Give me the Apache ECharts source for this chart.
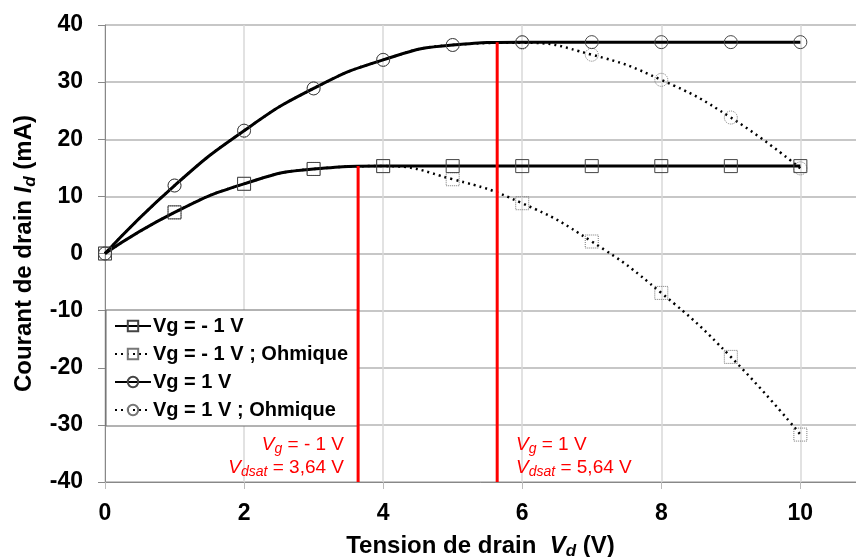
<!DOCTYPE html>
<html>
<head>
<meta charset="utf-8">
<script src="https://cdn.jsdelivr.net/npm/echarts@6/dist/echarts.min.js"></script>
<style>
html, body { margin: 0; padding: 0; background: #fff; }
#main { width: 856px; height: 557px; }
</style>
</head>
<body>
<div id="main"></div>
<script>
// valeurs
var vd = [0, 1, 2, 3, 4, 5, 6, 7, 8, 9, 10];
var idVgMoins1 = [0, 7.2, 12.2, 14.8, 15.3, 15.3, 15.3, 15.3, 15.3, 15.3, 15.3];
var idVgMoins1Ohm = [0, 7.2, 12.2, 14.8, 15.3, 13.0, 8.8, 2.1, -6.9, -18.1, -31.7];
var idVg1 = [0, 11.9, 21.5, 28.9, 33.9, 36.5, 37.0, 37.0, 37.0, 37.0, 37.0];
var idVg1Ohm = [0, 11.9, 21.5, 28.9, 33.9, 36.5, 36.9, 34.8, 30.4, 23.8, 14.9];
var vdsat = [3.64, 5.64];
var idsat = [15.3, 37.0];
var xTicks = [0, 2, 4, 6, 8, 10];
var noms = ['Vg = - 1 V', 'Vg = - 1 V ; Ohmique', 'Vg = 1 V', 'Vg = 1 V ; Ohmique'];

var FONT = '"Liberation Sans", Arial, sans-serif';

function paires(xs, ys) {
    var out = [];
    for (var i = 0; i < xs.length; i++) out.push([xs[i], ys[i]]);
    return out;
}

function courbe(nom, ys, symbole, pointille) {
    return {
        name: nom,
        type: 'line',
        data: paires(vd, ys),
        smooth: 0.5,
        symbol: symbole,
        symbolSize: 13,
        showAllSymbol: true,
        z: pointille ? 2 : 3,
        itemStyle: {
            color: 'rgba(0,0,0,0)',
            borderColor: pointille ? '#777' : '#444',
            borderWidth: 1,
            borderType: pointille ? 'dotted' : 'solid'
        },
        lineStyle: {
            color: '#000',
            width: pointille ? 2.5 : 3,
            type: pointille ? [2, 4] : 'solid'
        },
        emphasis: { disabled: true }
    };
}

function traitRouge(i) {
    return {
        type: 'line',
        data: [[vdsat[i], -40], [vdsat[i], idsat[i]]],
        symbol: 'none',
        z: 4,
        lineStyle: { color: '#ff0000', width: 3 },
        emphasis: { disabled: true }
    };
}

var myChart = echarts.init(document.getElementById('main'));

// texte rouge (graphic => fill et non color)
var sub = { fontFamily: FONT, fontSize: 14, fontStyle: 'italic', fill: '#ff0000', verticalAlign: 'bottom', padding: [9, 0, 0, 0] };
var ita = { fontFamily: FONT, fontSize: 19, fontStyle: 'italic', fill: '#ff0000' };
var nor = { fontFamily: FONT, fontSize: 19, fill: '#ff0000' };

var options = {
    animation: false,
    grid: { left: 105, top: 25, right: 0, bottom: 75, outerBoundsMode: 'none' },
    legend: {
        data: noms,
        orient: 'vertical',
        left: 106,
        top: 310,
        width: 250,
        backgroundColor: '#fff',
        borderColor: '#666',
        borderWidth: 1,
        borderRadius: 0,
        padding: [6, 10, 6, 8],
        itemGap: 8,
        itemWidth: 36,
        itemHeight: 13,
        textStyle: { fontFamily: FONT, fontSize: 20, fontWeight: 'bold', color: '#000', padding: [0, 50, 0, -3] }
    },
    xAxis: {
        type: 'value',
        min: 0,
        max: 10.8,
        interval: 0.4,
        name: '{b|Tension de drain  }{i|V}{s|d}{b| (V)}',
        nameLocation: 'middle',
        nameGap: 50,
        nameTextStyle: {
            rich: {
                b: { fontFamily: FONT, fontSize: 24, fontWeight: 'bold', color: '#000' },
                i: { fontFamily: FONT, fontSize: 24, fontWeight: 'bold', fontStyle: 'italic', color: '#000' },
                s: { fontFamily: FONT, fontSize: 17, fontWeight: 'bold', fontStyle: 'italic', color: '#000', verticalAlign: 'bottom', padding: [11, 0, 0, 0] }
            }
        },
        axisLine: { onZero: false, lineStyle: { color: '#888', width: 1 } },
        axisTick: { show: true, customValues: xTicks, length: 7, lineStyle: { color: '#bbb' } },
        axisLabel: {
            customValues: xTicks,
            margin: 20,
            fontFamily: FONT, fontSize: 23, fontWeight: 'bold', color: '#000'
        },
        splitLine: { show: true, lineStyle: { color: '#d9d9d9', width: 1.5 } }
    },
    yAxis: {
        type: 'value',
        min: -40,
        max: 40,
        interval: 10,
        name: '{b|Courant de drain }{i|I}{s|d}{b| (mA)}',
        nameLocation: 'middle',
        nameGap: 66,
        nameRotate: 90,
        nameTextStyle: {
            rich: {
                b: { fontFamily: FONT, fontSize: 24, fontWeight: 'bold', color: '#000' },
                i: { fontFamily: FONT, fontSize: 24, fontWeight: 'bold', fontStyle: 'italic', color: '#000' },
                s: { fontFamily: FONT, fontSize: 17, fontWeight: 'bold', fontStyle: 'italic', color: '#000', verticalAlign: 'bottom', padding: [11, 0, 0, 0] }
            }
        },
        axisLine: { show: true, lineStyle: { color: '#888', width: 1 } },
        axisTick: { show: true, length: 7, lineStyle: { color: '#888' } },
        axisLabel: { margin: 22, fontFamily: FONT, fontSize: 23, fontWeight: 'bold', color: '#000' },
        splitLine: { show: true, lineStyle: { color: '#b4b4b4', width: 1.5 } }
    },
    series: [
        courbe(noms[1], idVgMoins1Ohm, 'rect', true),
        courbe(noms[3], idVg1Ohm, 'circle', true),
        courbe(noms[0], idVgMoins1, 'rect', false),
        courbe(noms[2], idVg1, 'circle', false),
        traitRouge(0),
        traitRouge(1)
    ],
    graphic: [{
        type: 'text',
        x: 344,
        y: 433,
        z: 10,
        style: {
            text: '{i|V}{s|g}{n| = - 1 V}\n{i|V}{s|dsat}{n| = 3,64 V}',
            align: 'right',
            rich: { i: ita, s: sub, n: nor }
        }
    }, {
        type: 'text',
        x: 516,
        y: 433,
        z: 10,
        style: {
            text: '{i|V}{s|g}{n| = 1 V}\n{i|V}{s|dsat}{n| = 5,64 V}',
            align: 'left',
            rich: { i: ita, s: sub, n: nor }
        }
    }]
};
myChart.setOption(options);
</script>
</body>
</html>
